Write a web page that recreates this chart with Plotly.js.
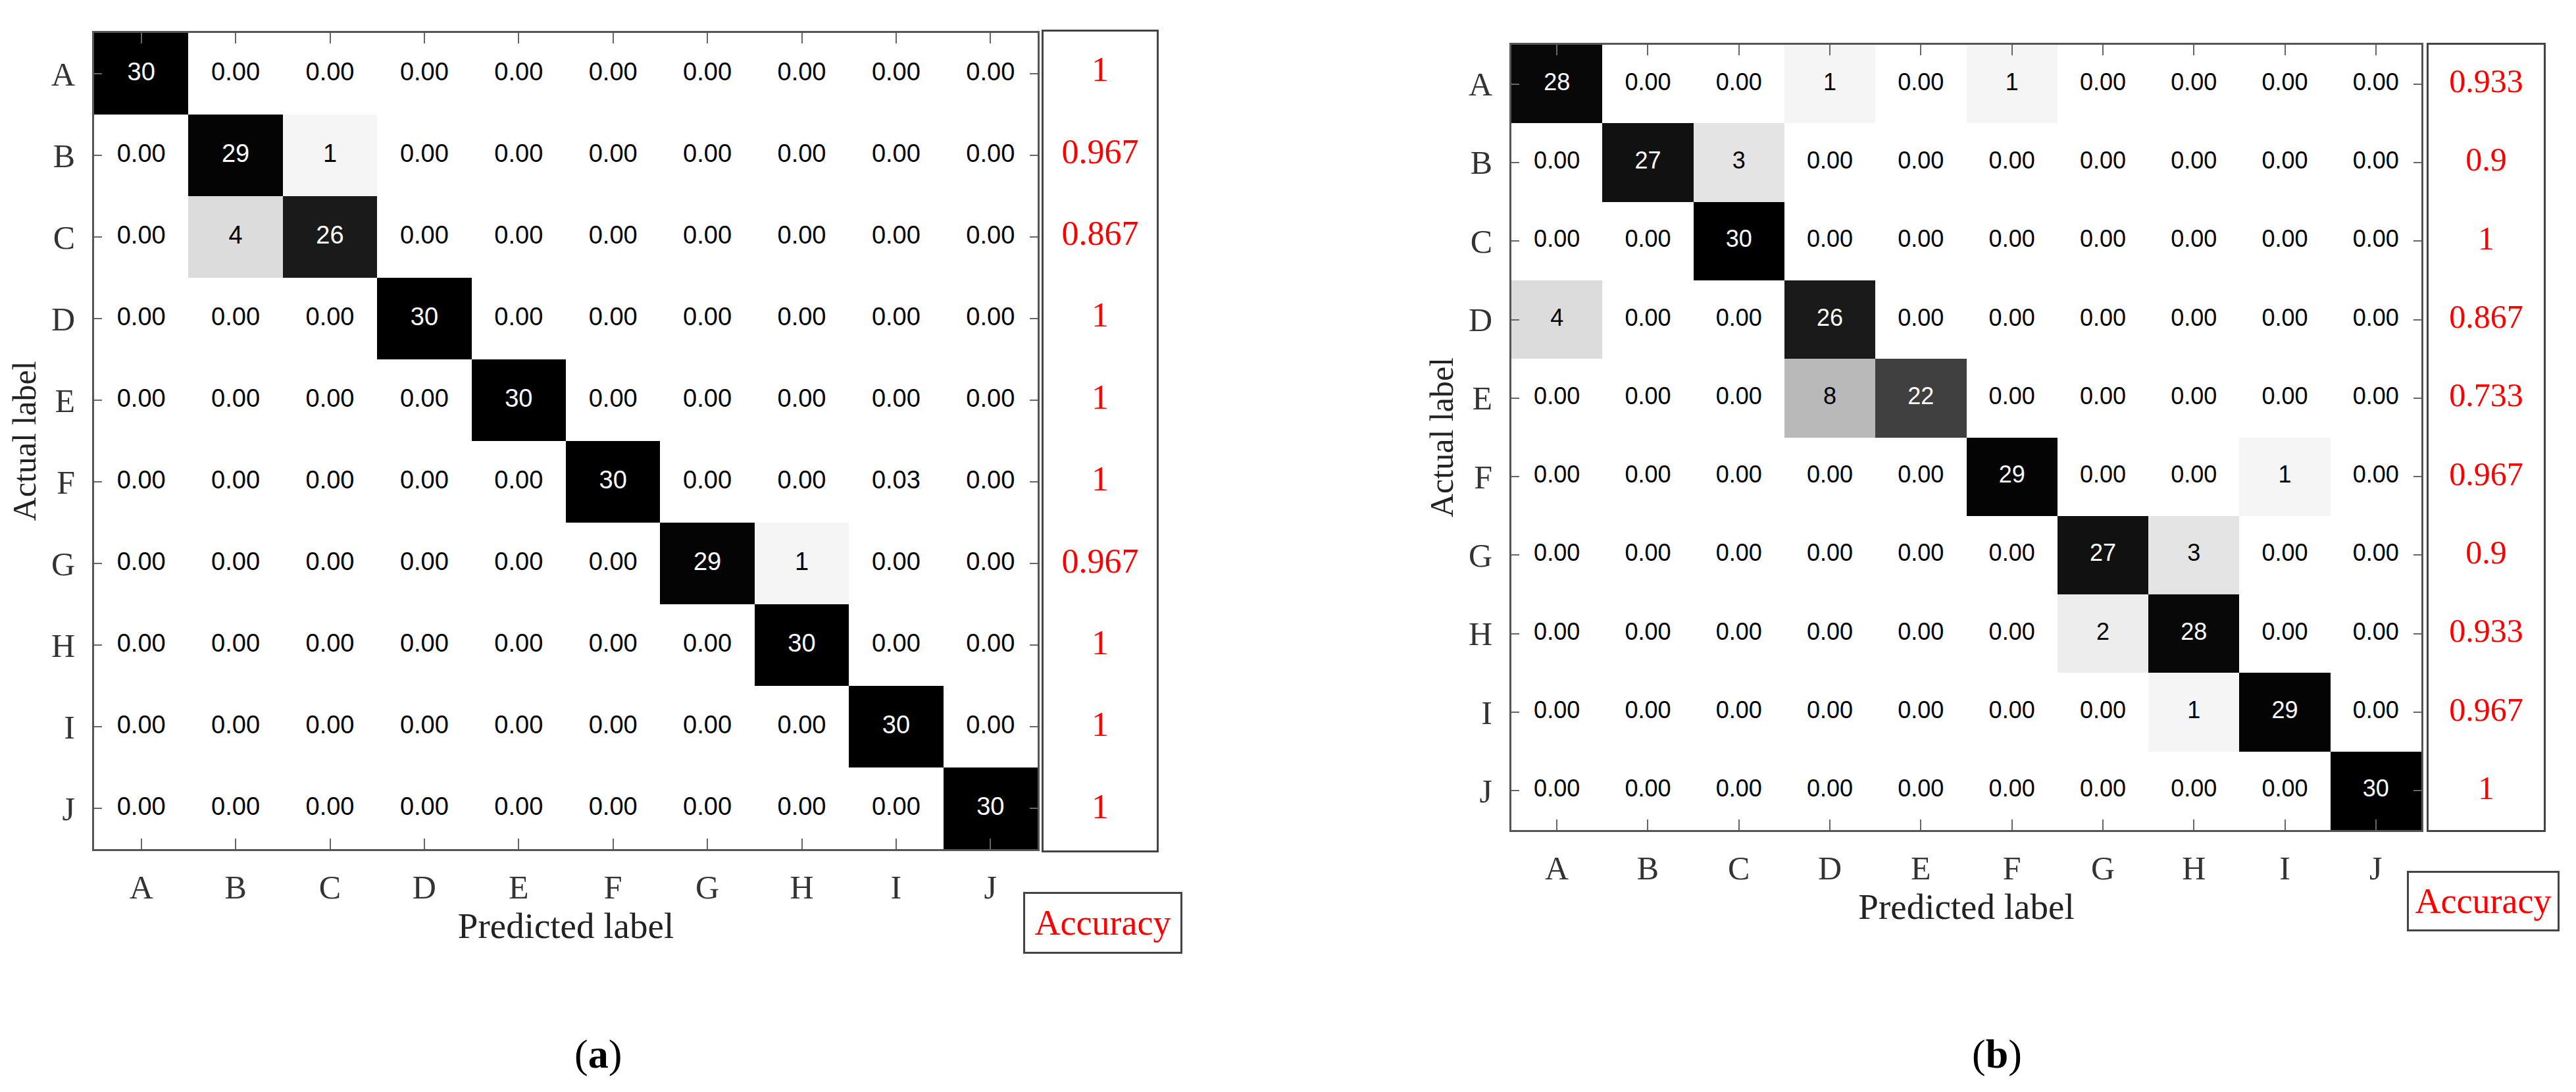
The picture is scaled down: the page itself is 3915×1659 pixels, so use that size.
<!DOCTYPE html>
<html>
<head>
<meta charset="utf-8">
<script src="https://cdn.plot.ly/plotly-3.0.1.min.js"></script>
<style>
  html, body { margin: 0; padding: 0; background: #fff; }
  #chart { width: 3915px; height: 1659px; }
</style>
</head>
<body>
<div id="chart"></div>
<script>
const labels = ['A', 'B', 'C', 'D', 'E', 'F', 'G', 'H', 'I', 'J'];

// (a) confusion matrix, rows = actual, cols = predicted
const confA = [
  [30, 0, 0, 0, 0, 0, 0, 0, 0, 0],
  [0, 29, 1, 0, 0, 0, 0, 0, 0, 0],
  [0, 4, 26, 0, 0, 0, 0, 0, 0, 0],
  [0, 0, 0, 30, 0, 0, 0, 0, 0, 0],
  [0, 0, 0, 0, 30, 0, 0, 0, 0, 0],
  [0, 0, 0, 0, 0, 30, 0, 0, 0.03, 0],
  [0, 0, 0, 0, 0, 0, 29, 1, 0, 0],
  [0, 0, 0, 0, 0, 0, 0, 30, 0, 0],
  [0, 0, 0, 0, 0, 0, 0, 0, 30, 0],
  [0, 0, 0, 0, 0, 0, 0, 0, 0, 30]
];
const accA = [1, 0.967, 0.867, 1, 1, 1, 0.967, 1, 1, 1];

// (b) confusion matrix
const confB = [
  [28, 0, 0, 1, 0, 1, 0, 0, 0, 0],
  [0, 27, 3, 0, 0, 0, 0, 0, 0, 0],
  [0, 0, 30, 0, 0, 0, 0, 0, 0, 0],
  [4, 0, 0, 26, 0, 0, 0, 0, 0, 0],
  [0, 0, 0, 8, 22, 0, 0, 0, 0, 0],
  [0, 0, 0, 0, 0, 29, 0, 0, 1, 0],
  [0, 0, 0, 0, 0, 0, 27, 3, 0, 0],
  [0, 0, 0, 0, 0, 0, 2, 28, 0, 0],
  [0, 0, 0, 0, 0, 0, 0, 1, 29, 0],
  [0, 0, 0, 0, 0, 0, 0, 0, 0, 30]
];
const accB = [0.933, 0.9, 1, 0.867, 0.733, 0.967, 0.9, 0.933, 0.967, 1];

const W = 3915, H = 1659;
const px = v => v / W;
const py = v => 1 - v / H;

const serif = 'Liberation Serif, Times New Roman, serif';
const sans = 'Liberation Sans, Arial, sans-serif';

const grays = [
  [0, '#ffffff'], [0.002, '#ffffff'], [0.0333, '#f5f5f5'], [0.1333, '#dcdcdc'],
  [0.2667, '#b9b9b9'], [0.7333, '#404040'], [0.8667, '#1a1a1a'],
  [0.9, '#111111'], [0.9333, '#080808'], [1, '#000000']
];

function heat(z, xa, ya) {
  return {
    type: 'heatmap', x: labels, y: labels, z: z,
    xaxis: xa, yaxis: ya,
    zmin: 0, zmax: 30, colorscale: grays, showscale: false,
    hoverinfo: 'skip'
  };
}

// cell numbers: white on dark cells, black elsewhere
function cellTexts(z, xa, ya, size) {
  const out = [];
  [true, false].forEach(dark => {
    const xs = [], ys = [], ts = [];
    z.forEach((row, i) => row.forEach((v, j) => {
      if ((v >= 15) === dark) {
        xs.push(labels[j]); ys.push(labels[i]);
        ts.push(v >= 1 ? String(v) : v.toFixed(2));
      }
    }));
    out.push({
      type: 'scatter', mode: 'text', x: xs, y: ys, text: ts,
      textposition: 'middle center',
      textfont: { family: sans, size: size, color: dark ? '#ffffff' : '#000000' },
      xaxis: xa, yaxis: ya, hoverinfo: 'skip', showlegend: false
    });
  });
  return out;
}

function accTrace(acc, xa, ya, size) {
  return {
    type: 'scatter', mode: 'text',
    x: acc.map(() => 0), y: labels,
    text: acc.map(v => String(v)),
    textposition: 'middle center',
    textfont: { family: serif, size: size, color: '#ff0000' },
    xaxis: xa, yaxis: ya, hoverinfo: 'skip', showlegend: false
  };
}

const data = [
  heat(confA, 'x', 'y'),
  ...cellTexts(confA, 'x', 'y', 38),
  accTrace(accA, 'x3', 'y3', 52),
  heat(confB, 'x2', 'y2'),
  ...cellTexts(confB, 'x2', 'y2', 36),
  accTrace(accB, 'x4', 'y4', 50)
];

function matX(domain, anchor) {
  return {
    domain: domain, anchor: anchor, type: 'category',
    range: [-0.5, 9.5],
    showline: true, mirror: 'ticks', linecolor: '#555', linewidth: 3,
    ticks: 'inside', ticklen: 16, tickwidth: 2, tickcolor: '#666',
    showgrid: false, zeroline: false,
    tickfont: { family: serif, size: 50, color: '#333' },
    ticklabelstandoff: 12,
    title: { text: 'Predicted label', font: { family: serif, size: 55, color: '#222' }, standoff: 6 }
  };
}
function matY(domain, anchor) {
  return {
    domain: domain, anchor: anchor, type: 'category',
    range: [9.5, -0.5],
    showline: true, mirror: 'ticks', linecolor: '#555', linewidth: 3,
    ticks: 'inside', ticklen: 12, tickwidth: 2, tickcolor: '#666',
    showgrid: false, zeroline: false,
    tickfont: { family: serif, size: 50, color: '#333' },
    ticklabelstandoff: 16,
    title: { text: 'Actual label', font: { family: serif, size: 50, color: '#222' }, standoff: 8 }
  };
}
function boxX(domain, anchor) {
  return {
    domain: domain, anchor: anchor, range: [-0.5, 0.5],
    showline: true, mirror: true, linecolor: '#444', linewidth: 3,
    showticklabels: false, ticks: '', showgrid: false, zeroline: false
  };
}
function boxY(domain, anchor) {
  return {
    domain: domain, anchor: anchor, type: 'category', range: [9.5, -0.5],
    showline: true, mirror: true, linecolor: '#444', linewidth: 3,
    showticklabels: false, ticks: '', showgrid: false, zeroline: false
  };
}

const layout = {
  width: W, height: H,
  margin: { l: 0, r: 0, t: 0, b: 0 },
  paper_bgcolor: '#ffffff', plot_bgcolor: '#ffffff',
  showlegend: false,
  xaxis: matX([px(143), px(1577)], 'y'),
  yaxis: matY([py(1290), py(50)], 'x'),
  xaxis2: matX([px(2297), px(3680)], 'y2'),
  yaxis2: matY([py(1261), py(68)], 'x2'),
  xaxis3: boxX([px(1586), px(1758)], 'y3'),
  yaxis3: boxY([py(1292), py(48)], 'x3'),
  xaxis4: boxX([px(3691), px(3866)], 'y4'),
  yaxis4: boxY([py(1261), py(68)], 'x4'),
  annotations: [
    {
      text: 'Accuracy', xref: 'paper', yref: 'paper', x: px(1676), y: py(1402),
      xanchor: 'center', yanchor: 'middle',
      showarrow: false, font: { family: serif, size: 54, color: '#ff0000' },
      width: 236, height: 88, bordercolor: '#444', borderwidth: 3, borderpad: 0
    },
    {
      text: 'Accuracy', xref: 'paper', yref: 'paper', x: px(3774), y: py(1369),
      xanchor: 'center', yanchor: 'middle',
      showarrow: false, font: { family: serif, size: 54, color: '#ff0000' },
      width: 226, height: 86, bordercolor: '#444', borderwidth: 3, borderpad: 0
    },
    {
      text: '(<b>a</b>)', xref: 'paper', yref: 'paper', x: px(909), y: py(1601),
      xanchor: 'center', yanchor: 'middle',
      showarrow: false, font: { family: serif, size: 62, color: '#000' }
    },
    {
      text: '(<b>b</b>)', xref: 'paper', yref: 'paper', x: px(3035), y: py(1601),
      xanchor: 'center', yanchor: 'middle',
      showarrow: false, font: { family: serif, size: 62, color: '#000' }
    }
  ]
};

Plotly.newPlot('chart', data, layout, { staticPlot: true });
</script>
</body>
</html>
